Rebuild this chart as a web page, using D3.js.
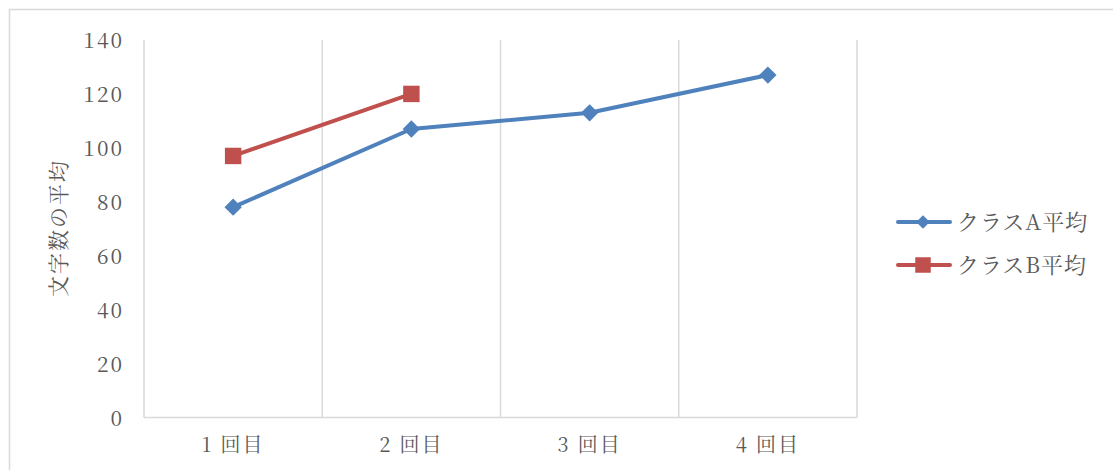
<!DOCTYPE html>
<html>
<head>
<meta charset="utf-8">
<script src="https://cdn.jsdelivr.net/npm/d3@7"></script>
<style>
  body { margin: 0; background: #fff; }
  svg { display: block; }
</style>
</head>
<body>
<div class="chart"></div>
<script>
// data
var categories = ['1 回目', '2 回目', '3 回目', '4 回目'];
var classA = [78, 107, 113, 127];
var classB = [97, 120];
var seriesNames = ['クラスA平均', 'クラスB平均'];
var yTicks = [0, 20, 40, 60, 80, 100, 120, 140];

var W = 1113, H = 470;
var font = "'Noto Serif CJK JP', 'Liberation Serif', serif";
var grid = '#d9d9d9';
var textCol = '#595959';
var blue = '#4f81bd', red = '#c0504d';

var svg = d3.select('.chart')
  .append('svg')
  .attr('width', W)
  .attr('height', H);

// outer chart border (runs off right/bottom edge)
svg.append('rect')
  .attr('x', 9.5).attr('y', 9.5)
  .attr('width', W + 20).attr('height', H + 20)
  .attr('fill', 'none')
  .attr('stroke', grid)
  .attr('stroke-width', 1.5);

var xScale = d3.scaleBand()
  .domain(categories)
  .range([144, 857])
  .padding(0);

var yScale = d3.scaleLinear()
  .domain([0, 140])
  .range([417.5, 40]);

var cx = d => xScale(d) + xScale.bandwidth() / 2;

// vertical gridlines at category boundaries
var bounds = categories.map(c => xScale(c)).concat([xScale.range()[1]]);
svg.selectAll('.vgrid')
  .data(bounds)
  .enter()
  .append('line')
  .attr('class', 'vgrid')
  .attr('x1', d => d).attr('x2', d => d)
  .attr('y1', yScale(140)).attr('y2', yScale(0))
  .attr('stroke', grid)
  .attr('stroke-width', 1.5);

// bottom axis line
svg.append('line')
  .attr('x1', xScale.range()[0]).attr('x2', xScale.range()[1])
  .attr('y1', yScale(0)).attr('y2', yScale(0))
  .attr('stroke', grid)
  .attr('stroke-width', 1.5);

// y axis ticks
var yAxis = svg.append('g')
  .attr('transform', 'translate(124,0)')
  .call(d3.axisLeft(yScale).tickValues(yTicks).tickSize(0).tickPadding(0));
yAxis.attr('font-family', font).attr('font-size', 21);
yAxis.select('.domain').remove();
yAxis.selectAll('text')
  .attr('fill', textCol)
  .attr('letter-spacing', 2)
  .attr('dy', '0.36em');

// x axis labels
var xAxis = svg.append('g')
  .attr('transform', 'translate(0,' + 445 + ')')
  .call(d3.axisBottom(xScale).tickSize(0).tickPadding(0));
xAxis.attr('font-family', font).attr('font-size', 20);
xAxis.select('.domain').remove();
xAxis.selectAll('text')
  .attr('fill', textCol)
  .attr('letter-spacing', 2)
  .attr('y', 0)
  .attr('dy', '0.36em');

// y axis title
svg.append('text')
  .attr('transform', 'translate(58,228) rotate(-90)')
  .attr('text-anchor', 'middle')
  .attr('dy', '0.36em')
  .attr('font-family', font)
  .attr('font-size', 21)
  .attr('letter-spacing', 2)
  .attr('fill', textCol)
  .text('文字数の平均');

var line = d3.line()
  .x((d, i) => cx(categories[i]))
  .y(d => yScale(d));

var diamond = d3.symbol().type(d3.symbolSquare).size(150);
var square = d3.symbol().type(d3.symbolSquare).size(270);

// series A
svg.append('path')
  .datum(classA)
  .attr('d', line)
  .attr('fill', 'none')
  .attr('stroke', blue)
  .attr('stroke-width', 4)
  .attr('stroke-linejoin', 'round')
  .attr('stroke-linecap', 'round');

svg.selectAll('.dotA')
  .data(classA)
  .enter()
  .append('path')
  .attr('class', 'dotA')
  .attr('d', diamond)
  .attr('transform', (d, i) => 'translate(' + cx(categories[i]) + ',' + yScale(d) + ') rotate(45)')
  .attr('fill', blue);

// series B
svg.append('path')
  .datum(classB)
  .attr('d', line)
  .attr('fill', 'none')
  .attr('stroke', red)
  .attr('stroke-width', 4)
  .attr('stroke-linejoin', 'round')
  .attr('stroke-linecap', 'round');

svg.selectAll('.dotB')
  .data(classB)
  .enter()
  .append('path')
  .attr('class', 'dotB')
  .attr('d', square)
  .attr('transform', (d, i) => 'translate(' + cx(categories[i]) + ',' + yScale(d) + ')')
  .attr('fill', red);

// legend
var legendY = [222, 265];
var colors = [blue, red];
var legend = svg.selectAll('.legend')
  .data(seriesNames)
  .enter()
  .append('g')
  .attr('class', 'legend')
  .attr('transform', (d, i) => 'translate(0,' + legendY[i] + ')');

legend.append('line')
  .attr('x1', 898).attr('x2', 950)
  .attr('y1', 0).attr('y2', 0)
  .attr('stroke', (d, i) => colors[i])
  .attr('stroke-width', 4)
  .attr('stroke-linecap', 'round');

legend.append('path')
  .attr('d', (d, i) => i === 0 ? d3.symbol().type(d3.symbolSquare).size(90)() : d3.symbol().type(d3.symbolSquare).size(240)())
  .attr('transform', (d, i) => 'translate(923,0)' + (i === 0 ? ' rotate(45)' : ''))
  .attr('fill', (d, i) => colors[i]);

legend.append('text')
  .attr('x', 957)
  .attr('dy', '0.36em')
  .attr('font-family', font)
  .attr('font-size', 22)
  .attr('letter-spacing', 1)
  .attr('fill', textCol)
  .text(d => d);
</script>
</body>
</html>
